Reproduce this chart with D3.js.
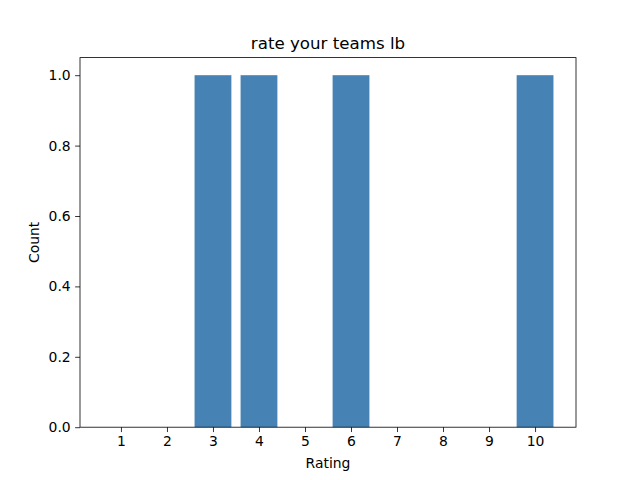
<!DOCTYPE html>
<html>
  <head>
    <meta charset="utf-8" />
    <title>rate your teams lb</title>
    <script src="https://d3js.org/d3.v7.min.js"></script>
    <style>
        body {margin: 0; background: #fff;}
        text {font-family: "DejaVu Sans", sans-serif; fill: #000;}
    </style>
  </head>
  <body>

    <svg id="chart" width="640" height="480"></svg>

    <script>

        // data
        var ratings = [1, 2, 3, 4, 5, 6, 7, 8, 9, 10];
        var counts = [0, 0, 1, 1, 0, 1, 0, 0, 0, 1];
        var yTicks = [0, 0.2, 0.4, 0.6, 0.8, 1.0];

        var svg = d3.select("#chart");
        // plot area (window.top is read-only, so no "top" here)
        var pLeft = 80, pRight = 576, pTop = 57.6, pBottom = 427.2;
        var barW = 0.8;

        // matplotlib style limits: 5% margin on x, y starts at 0
        var lo = d3.min(ratings) - barW / 2, hi = d3.max(ratings) + barW / 2;
        var pad = (hi - lo) * 0.05;
        var x = d3.scaleLinear().domain([lo - pad, hi + pad]).range([pLeft, pRight]);
        var y = d3.scaleLinear().domain([0, d3.max(counts) * 1.05]).range([pBottom, pTop]);

        svg.append("rect")
            .attr("width", 640).attr("height", 480).attr("fill", "#fff");

        // bars
        svg.selectAll("rect.bar")
            .data(ratings)
            .enter().append("rect")
            .attr("class", "bar")
            .attr("x", function(d){ return x(d - barW / 2); })
            .attr("width", function(d){ return x(d + barW / 2) - x(d - barW / 2); })
            .attr("y", function(d, i){ return y(counts[i]); })
            .attr("height", function(d, i){ return y(0) - y(counts[i]); })
            .attr("fill", "steelblue");

        // axes
        var xAxis = d3.axisBottom(x).tickValues(ratings).tickSize(4.86).tickPadding(4.5)
                      .tickFormat(d3.format("d"));
        var yAxis = d3.axisLeft(y).tickValues(yTicks).tickSize(4.86).tickPadding(4.5)
                      .tickFormat(d3.format(".1f"));

        var gx = svg.append("g").attr("transform", "translate(0," + pBottom + ")").call(xAxis);
        var gy = svg.append("g").attr("transform", "translate(" + pLeft + ",0)").call(yAxis);

        [gx, gy].forEach(function(g){
            g.select(".domain").remove();
            g.selectAll("line").attr("stroke", "#000").attr("stroke-width", 0.8);
            g.selectAll("text").attr("font-size", "13.9px")
             .attr("font-family", "DejaVu Sans, sans-serif").attr("fill", "#000");
        });

        // frame
        svg.append("rect")
            .attr("x", pLeft).attr("y", pTop)
            .attr("width", pRight - pLeft).attr("height", pBottom - pTop)
            .attr("fill", "none").attr("stroke", "#000").attr("stroke-width", 0.8);

        // labels
        svg.append("text")
            .attr("x", (pLeft + pRight) / 2).attr("y", 49.3)
            .attr("text-anchor", "middle").attr("font-size", "16.67px")
            .text("rate your teams lb");

        svg.append("text")
            .attr("x", (pLeft + pRight) / 2).attr("y", 468)
            .attr("text-anchor", "middle").attr("font-size", "13.9px")
            .text("Rating");

        svg.append("text")
            .attr("transform", "translate(39," + (pTop + pBottom) / 2 + ") rotate(-90)")
            .attr("text-anchor", "middle").attr("font-size", "13.9px")
            .text("Count");

    </script>

  </body>
</html>
